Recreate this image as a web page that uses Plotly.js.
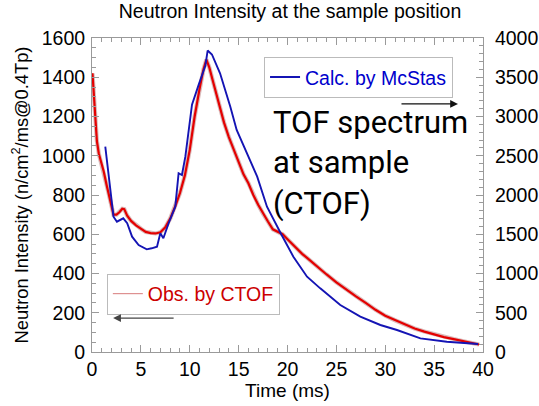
<!DOCTYPE html>
<html>
<head>
<meta charset="utf-8">
<script src="https://cdn.plot.ly/plotly-3.0.1.min.js"></script>
<style>html,body{margin:0;padding:0;background:#fff;}#chart{width:539px;height:406px;}</style>
</head>
<body>
<div id="chart"></div>
<script>
// Observed by CTOF (left axis, n/cm2/ms@0.4Tp)
var obsTime = [0.05,0.3,0.5,0.7,1.0,1.2,1.5,1.7,2.0,2.2,2.5,2.8,3.1,3.3,3.6,4.0,4.5,5.0,5.5,6.0,6.5,7.0,7.5,8.0,8.5,9.0,9.5,10.0,10.5,11.0,11.4,11.7,12.0,12.4,13.0,13.5,14.0,14.5,15.0,15.5,16.0,16.5,17.0,17.5,18.0,18.5,19.0,19.5,20.0,20.5,21.0,21.5,22.0,23.0,24.0,25.0,26.0,27.0,28.0,29.0,30.0,31.0,32.0,33.0,34.0,35.0,36.0,37.0,38.0,39.0,39.6];
var obsValue = [1420,1200,1075,1010,955,920,850,808,740,700,700,712,730,728,695,668,645,628,612,606,604,610,635,680,740,810,900,1030,1200,1340,1440,1490,1450,1375,1260,1170,1095,1030,965,905,860,800,750,705,665,625,612,600,575,550,522,500,480,435,395,355,318,283,250,215,185,162,140,120,104,90,76,66,55,45,38];
// Calculated by McStas (right axis)
var calcTime = [1.36,2.05,2.2,2.55,2.9,3.2,3.6,4.1,4.77,5.6,6.1,6.65,6.99,7.3,7.84,8.52,8.86,9.2,9.55,10.23,10.9,11.6,11.83,12.27,13.1,14.15,14.8,15.85,16.9,17.9,18.9,19.4,20.6,22.0,23.35,25.4,27.45,29.5,31.2,33.6,36.3,39.5];
var calcValue = [2616,1894,1724,1660,1680,1703,1640,1469,1363,1308,1321,1342,1512,1449,1640,1851,2277,2255,2488,3150,3400,3650,3840,3790,3551,3125,2828,2531,2233,1851,1596,1490,1214,959,811,599,450,344,280,174,131,102];
var xTicks = [0,5,10,15,20,25,30,35,40];
var yLeftTicks = [0,200,400,600,800,1000,1200,1400,1600];
var yRightTicks = [0,500,1000,1500,2000,2500,3000,3500,4000];

var axisGrey = '#9a9a9a';
var fam = 'Liberation Sans, Arial, sans-serif';
var tickFont = {family: fam, size: 19.5, color: '#000'};

var traces = [
  {x: obsTime, y: obsValue, type: 'scatter', mode: 'lines', yaxis: 'y',
   line: {color: 'rgba(150,60,60,0.35)', width: 4.2}, showlegend: false, hoverinfo: 'skip'},
  {x: obsTime, y: obsValue, type: 'scatter', mode: 'lines', yaxis: 'y',
   line: {color: '#e40000', width: 2.2}, showlegend: false},
  {x: calcTime, y: calcValue, type: 'scatter', mode: 'lines', yaxis: 'y2',
   name: 'Calc. by McStas', line: {color: '#1414b4', width: 1.9}, legend: 'legend'},
  {x: [null], y: [null], type: 'scatter', mode: 'lines', yaxis: 'y',
   name: 'Obs. by CTOF', line: {color: '#d87a7a', width: 1}, legend: 'legend2'}
];

var layout = {
  width: 539, height: 406,
  margin: {l: 92, r: 56, t: 38, b: 54},
  paper_bgcolor: '#fff', plot_bgcolor: '#fff',
  font: tickFont,
  title: {text: 'Neutron Intensity at the sample position', x: 0.538, xanchor: 'center', y: 0.99, yanchor: 'top',
          font: {family: fam, size: 19.5, color: '#000'}},
  xaxis: {range: [0, 40], tickvals: xTicks, ticks: 'inside', ticklen: 7, tickcolor: axisGrey,
          showline: true, linecolor: axisGrey, linewidth: 1, mirror: 'ticks', showgrid: false, zeroline: false,
          minor: {dtick: 1, ticks: 'inside', ticklen: 4, tickcolor: axisGrey},
          tickfont: tickFont,
          title: {text: 'Time (ms)', font: {family: fam, size: 19, color: '#000'}, standoff: 2}},
  yaxis: {range: [0, 1600], tickvals: yLeftTicks, ticks: 'inside', ticklen: 7, tickcolor: axisGrey,
          showline: true, linecolor: axisGrey, linewidth: 1, showgrid: false, zeroline: false,
          minor: {dtick: 50, ticks: 'inside', ticklen: 4, tickcolor: axisGrey},
          tickfont: tickFont, ticklabelstandoff: 2,
          title: {text: 'Neutron Intensity (n/cm<sup>2</sup>/ms@0.4Tp)', font: {family: fam, size: 18.3, color: '#000'}, standoff: 8}},
  yaxis2: {range: [0, 4000], tickvals: yRightTicks, overlaying: 'y', side: 'right', ticks: 'inside', ticklen: 7, tickcolor: axisGrey,
           showline: true, linecolor: axisGrey, linewidth: 1, showgrid: false, zeroline: false,
           minor: {dtick: 100, ticks: 'inside', ticklen: 4, tickcolor: axisGrey},
           tickfont: tickFont, ticklabelstandoff: 7},
  legend: {x: 0.44, y: 0.94, xanchor: 'left', yanchor: 'top', bgcolor: '#fff', bordercolor: '#bbb', borderwidth: 1,
           font: {family: fam, size: 19.5, color: '#0000cc'}},
  legend2: {x: 0.038, y: 0.25, xanchor: 'left', yanchor: 'top', bgcolor: '#fff', bordercolor: '#bbb', borderwidth: 1,
            font: {family: fam, size: 19.5, color: '#cc0000'}},
  annotations: [
    {xref: 'paper', yref: 'paper', x: 0.458, y: 0.795, xanchor: 'left', yanchor: 'top', align: 'left', showarrow: false,
     text: 'TOF spectrum<br>at sample<br>(CTOF)', font: {family: 'Roboto, sans-serif', size: 31, color: '#000'}},
    {xref: 'paper', yref: 'paper', x: 0.936, y: 0.79, text: '', showarrow: true, ax: -58, ay: 0,
     arrowhead: 2, arrowsize: 1.3, arrowwidth: 1.2, arrowcolor: '#111'},
    {xref: 'paper', yref: 'paper', x: 0.054, y: 0.108, text: '', showarrow: true, ax: 62, ay: 0,
     arrowhead: 2, arrowsize: 1.3, arrowwidth: 1.2, arrowcolor: '#444'}
  ]
};

Plotly.newPlot('chart', traces, layout, {displayModeBar: false, staticPlot: true});
</script>
</body>
</html>
